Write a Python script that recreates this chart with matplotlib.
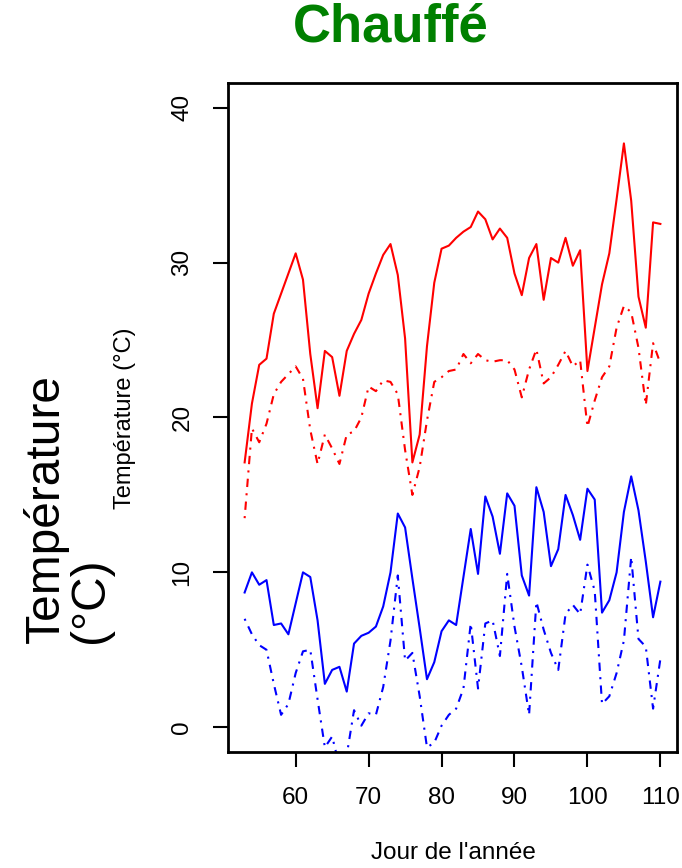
import numpy as np
import matplotlib
matplotlib.use("Agg")
import matplotlib.pyplot as plt

plt.rcParams['font.family'] = ['Liberation Sans', 'DejaVu Sans']

# Day of year, one value per day
days = np.arange(53, 111)

# Heated plot: red = upper series, blue = lower series
red_solid = [17.1, 20.9, 23.4, 23.8, 26.7, 28.0, 29.3, 30.6, 28.9, 24.1,
             20.6, 24.3, 23.9, 21.4, 24.3, 25.4, 26.3, 28.0, 29.3, 30.5,
             31.2, 29.2, 25.1, 17.1, 18.9, 24.6, 28.7, 30.9, 31.1, 31.6,
             32.0, 32.3, 33.3, 32.8, 31.5, 32.2, 31.6, 29.3, 27.9, 30.3,
             31.2, 27.6, 30.3, 30.0, 31.6, 29.8, 30.8, 23.0, 25.8, 28.6,
             30.6, 34.1, 37.7, 34.0, 27.8, 25.8, 32.6, 32.5]
red_dash = [13.5, 19.3, 18.4, 19.6, 21.5, 22.3, 22.8, 23.3, 22.5, 19.2,
            17.0, 18.9, 18.0, 17.0, 18.9, 19.1, 20.0, 22.0, 21.7, 22.4,
            22.3, 21.5, 17.9, 15.0, 16.8, 19.8, 22.3, 22.6, 23.0, 23.1,
            24.1, 23.5, 24.1, 23.7, 23.6, 23.7, 23.7, 23.1, 21.3, 23.1,
            24.4, 22.2, 22.6, 23.4, 24.3, 23.3, 23.7, 19.4, 21.1, 22.6,
            23.3, 25.8, 27.2, 26.8, 24.5, 20.8, 24.8, 23.5]
blue_solid = [8.7, 10.0, 9.2, 9.5, 6.6, 6.7, 6.0, 8.0, 10.0, 9.7,
              6.9, 2.8, 3.7, 3.9, 2.3, 5.4, 5.9, 6.1, 6.5, 7.8,
              10.0, 13.8, 12.9, 9.6, 6.4, 3.1, 4.2, 6.2, 6.9, 6.6,
              9.7, 12.8, 9.9, 14.9, 13.6, 11.2, 15.1, 14.3, 9.8, 8.5,
              15.5, 13.9, 10.4, 11.5, 15.0, 13.7, 12.1, 15.4, 14.7, 7.4,
              8.2, 10.0, 13.9, 16.2, 14.0, 10.7, 7.1, 9.4]
blue_dash = [7.0, 6.0, 5.3, 5.0, 2.8, 0.8, 1.5, 3.5, 4.9, 5.0,
             1.8, -1.3, -0.6, -2.5, -1.8, 1.1, 0.1, 0.9, 0.8, 2.6,
             5.6, 9.8, 4.3, 4.8, 2.0, -1.3, -1.0, 0.1, 0.8, 1.2,
             2.5, 6.7, 2.5, 6.7, 6.9, 4.6, 9.9, 6.5, 3.9, 0.8,
             8.1, 6.3, 4.8, 3.7, 7.3, 7.9, 7.3, 10.5, 8.8, 1.5,
             2.0, 3.5, 5.6, 11.0, 5.7, 5.2, 1.2, 4.4]

xticks = [60, 70, 80, 90, 100, 110]
yticks = [0, 10, 20, 30, 40]

fig = plt.figure(figsize=(6.82, 8.68), dpi=100)
ax = fig.add_axes([228 / 682, 1 - 752 / 868, 449 / 682, 669 / 868])

lw = 1.5
dd = (1, 3, 4, 3)  # R "dotdash"
ax.plot(days, red_solid, color='#ff0000', lw=lw)
ax.plot(days, red_dash, color='#ff0000', lw=lw, dashes=dd)
ax.plot(days, blue_solid, color='#0000ff', lw=lw)
ax.plot(days, blue_dash, color='#0000ff', lw=lw, dashes=dd)

ax.set_xlim(50.72, 112.28)
ax.set_ylim(-1.6, 41.6)
ax.set_xticks(xticks)
ax.set_yticks(yticks)
ax.tick_params(direction='out', length=11, width=1.5, labelsize=17.5,
               pad=14, colors='black')
for lab in ax.get_yticklabels():
    lab.set_rotation(90)
    lab.set_va('center')
for sp in ax.spines.values():
    sp.set_linewidth(2)

# small inner y label
fig.text(125 / 682, 1 - 418 / 868, 'Température (°C)', rotation=90,
         ha='center', va='center', fontsize=17)
# big outer y label
fig.text(68 / 682, 1 - 643 / 868, 'Température\n(°C)', rotation=90,
         ha='center', va='bottom', multialignment='left', fontsize=34.5,
         linespacing=1.0)
fig.text(453 / 682, 1 - 853 / 868, "Jour de l'année", ha='center',
         va='center', fontsize=17.5)
fig.text(391 / 682, 1 - 28 / 868, 'Chauffé', ha='center', va='center',
         fontsize=38, fontweight='bold', color='#008000')

fig.savefig('out.png', dpi=100)
